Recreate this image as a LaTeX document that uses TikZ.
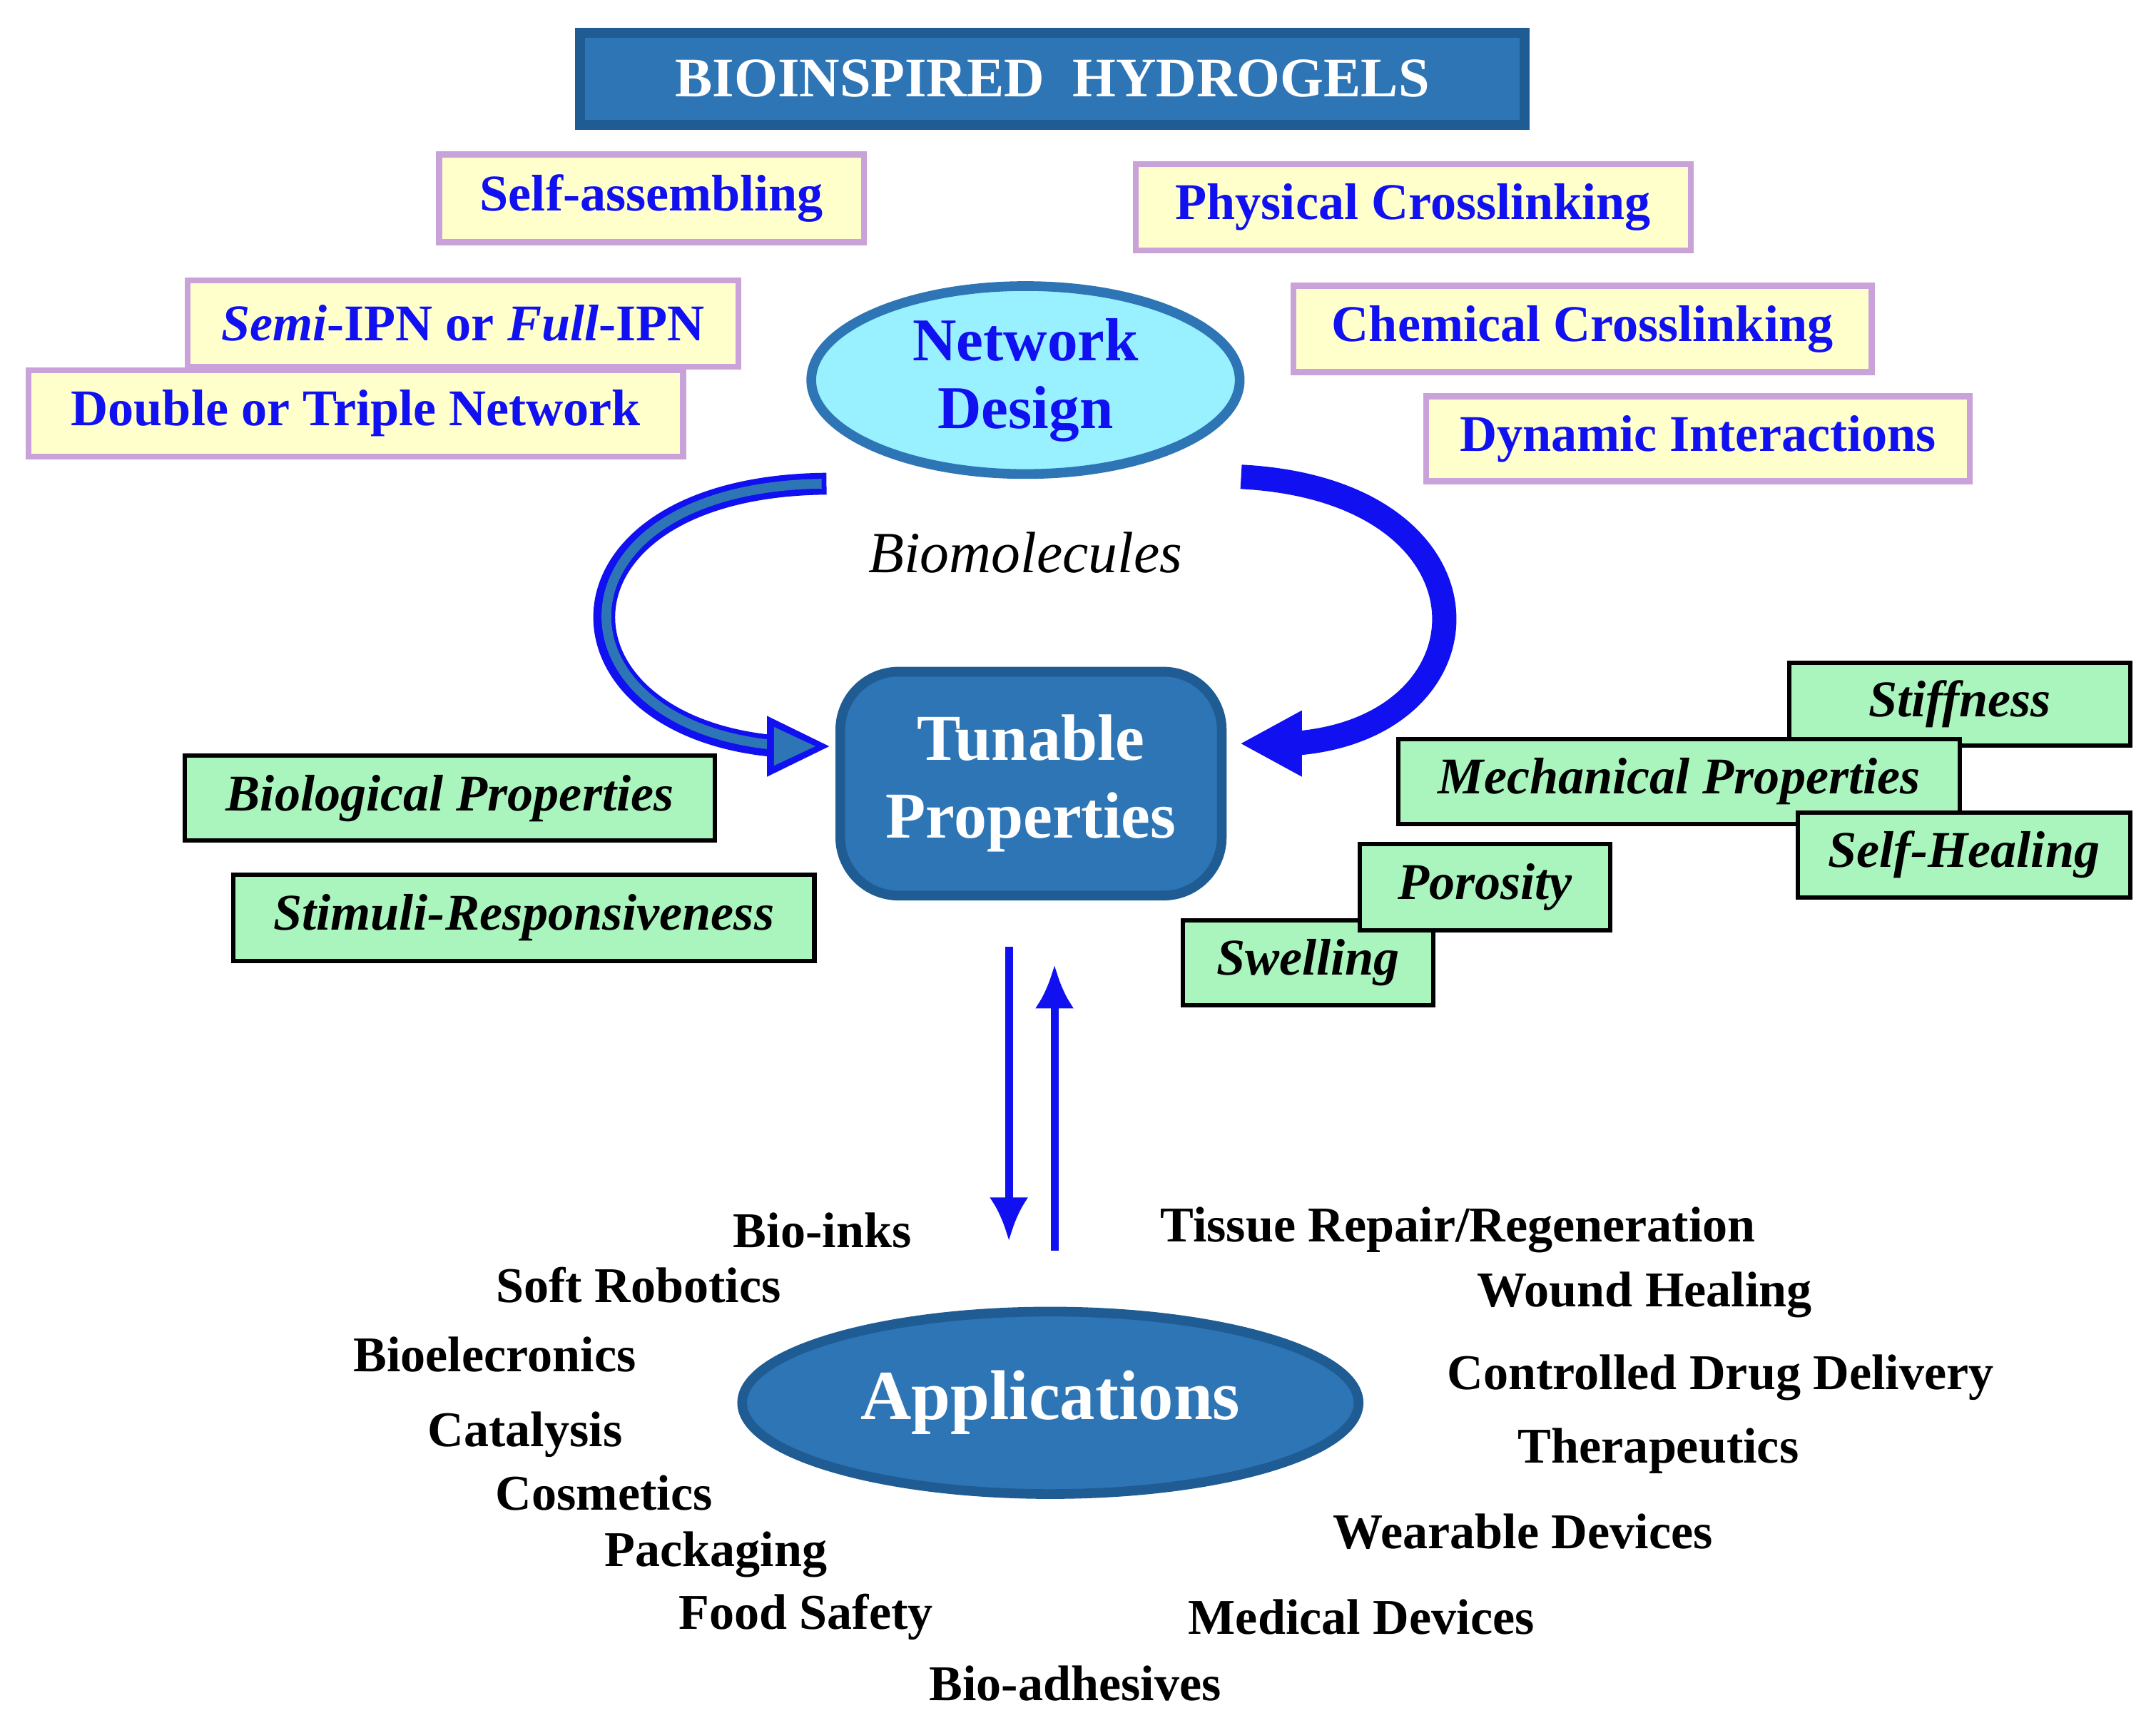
\documentclass[tikz,border=0pt]{standalone}
\usepackage{fontspec}
\setmainfont{Liberation Serif}
\usetikzlibrary{arrows.meta,shapes.geometric}
\definecolor{tb}{HTML}{2E75B6}
\definecolor{tbd}{HTML}{1F5C94}
\definecolor{ybox}{HTML}{FFFFCC}
\definecolor{ybd}{HTML}{C8A2D8}
\definecolor{gbox}{HTML}{AAF5BE}
\definecolor{cyanf}{HTML}{99F0FF}
\definecolor{bt}{HTML}{1010F0}
\tikzset{
 ybx/.style={draw=ybd,line width=1.2pt,fill=ybox,text=bt,font=\fontsize{10.6}{13}\selectfont\bfseries,inner sep=0pt},
 gbx/.style={draw=black,line width=0.9pt,fill=gbox,font=\fontsize{10.6}{13}\selectfont\bfseries\itshape,inner sep=0pt},
 app/.style={font=\fontsize{10.3}{12}\selectfont\bfseries,inner sep=0pt},
 barr/.style={draw=bt,line width=1.6pt,-{Latex[length=9pt,width=8pt]}},
}
\newcommand{\bx}[6]{\node[#1,minimum width={(#4-#2)*0.1mm-1pt},minimum height={(#5-#3)*0.1mm-1pt}] (#6) at ({(#2+#4)/2},{(#3+#5)/2})}
\begin{document}
\begin{tikzpicture}[x=0.1mm,y=-0.1mm]
\useasboundingbox (0,0) rectangle (1560,1250);
% title
\bx{draw=tbd,line width=2pt,fill=tb,text=white,font=\fontsize{11.5}{13}\selectfont\bfseries,inner sep=0pt}{418}{22}{1105}{92}{title} {BIOINSPIRED\ \ HYDROGELS};
% yellow
\bx{ybx}{316}{110}{627}{177}{sa} {Self-assembling};
\bx{ybx}{820}{117}{1225}{183}{pc} {Physical Crosslinking};
\bx{ybx}{134}{201}{536}{267}{ipn} {\itshape Semi\upshape-IPN or \itshape Full\upshape-IPN};
\bx{ybx}{934}{205}{1356}{271}{cc} {Chemical Crosslinking};
\bx{ybx}{19}{266}{496}{332}{dt} {Double or Triple Network};
\bx{ybx}{1030}{285}{1427}{350}{di} {Dynamic Interactions};
% network design
\node[ellipse,draw=tb,line width=2pt,fill=cyanf,minimum width=31mm,minimum height=13.6mm,text=bt,align=center,font=\fontsize{12.5}{14}\selectfont\bfseries,inner sep=0pt] (nd) at (742,275) {Network\\Design};
\node[font=\fontsize{12}{14}\selectfont\itshape] (bio) at (742,400) {Biomolecules};
% tunable
\node[draw=tbd,line width=2pt,fill=tb,rounded corners=12pt,minimum width=27.6mm,minimum height=16.2mm,text=white,align=center,font=\fontsize{13.5}{16}\selectfont\bfseries,inner sep=0pt] (tp) at (746,567) {Tunable\\Properties};
% green
\bx{gbx}{132}{545}{519}{610}{bp} {Biological Properties};
\bx{gbx}{167}{631}{591}{697}{sr} {Stimuli-Responsiveness};
\bx{gbx}{1293}{478}{1543}{541}{st} {Stiffness};
\bx{gbx}{1010}{533}{1420}{598}{mp} {Mechanical Properties};
\bx{gbx}{1299}{586}{1543}{651}{sh} {Self-Healing};
\bx{gbx}{854}{664}{1039}{729}{sw} {Swelling};
\bx{gbx}{982}{609}{1167}{675}{po} {Porosity};
% curved arrows
\coordinate (l1) at (598,350);
\coordinate (r1) at (898,345);
\draw[line width=4.5pt,draw=bt] (l1) .. controls (390,352) and (390,525) .. (562,540);
\draw[line width=2pt,draw=tb] ([xshift=-1pt]l1) .. controls (393,353) and (393,523) .. (560,539);
\fill[bt] (600,540) -- (555,518) -- (555,562) -- cycle;
\fill[tb] (590,540) -- (560,526) -- (560,554) -- cycle;
\draw[line width=5pt,draw=bt] (r1) .. controls (1090,355) and (1085,528) .. (935,538);
\fill[bt] (898,538) -- (942,514) -- (942,562) -- cycle;
% vertical arrows
\coordinate (d1) at (730,685);
\coordinate (d2) at (730,898);
\coordinate (u1) at (763,905);
\coordinate (u2) at (763,698);
\draw[barr] (d1) -- (d2);
\draw[barr] (u1) -- (u2);
% applications
\node[ellipse,draw=tbd,line width=2pt,fill=tb,minimum width=44.6mm,minimum height=13.2mm,text=white,font=\fontsize{14.5}{17}\selectfont\bfseries,inner sep=0pt] (ap) at (760,1015) {Applications};
\node[app] (a1) at (595,890) {Bio-inks};
\node[app] (a2) at (462,930) {Soft Robotics};
\node[app] (a3) at (358,980) {Bioelecronics};
\node[app] (a4) at (380,1038) {Catalysis};
\node[app] (a5) at (437,1080) {Cosmetics};
\node[app] (a6) at (518,1125) {Packaging};
\node[app] (a7) at (583,1170) {Food Safety};
\node[app] (a8) at (778,1218) {Bio-adhesives};
\node[app] (b1) at (1055,890) {Tissue Repair/Regeneration};
\node[app] (b2) at (1190,937) {Wound Healing};
\node[app] (b3) at (1245,997) {Controlled Drug Delivery};
\node[app] (b4) at (1200,1050) {Therapeutics};
\node[app] (b5) at (1102,1108) {Wearable Devices};
\node[app] (b6) at (985,1170) {Medical Devices};
\end{tikzpicture}
\end{document}
